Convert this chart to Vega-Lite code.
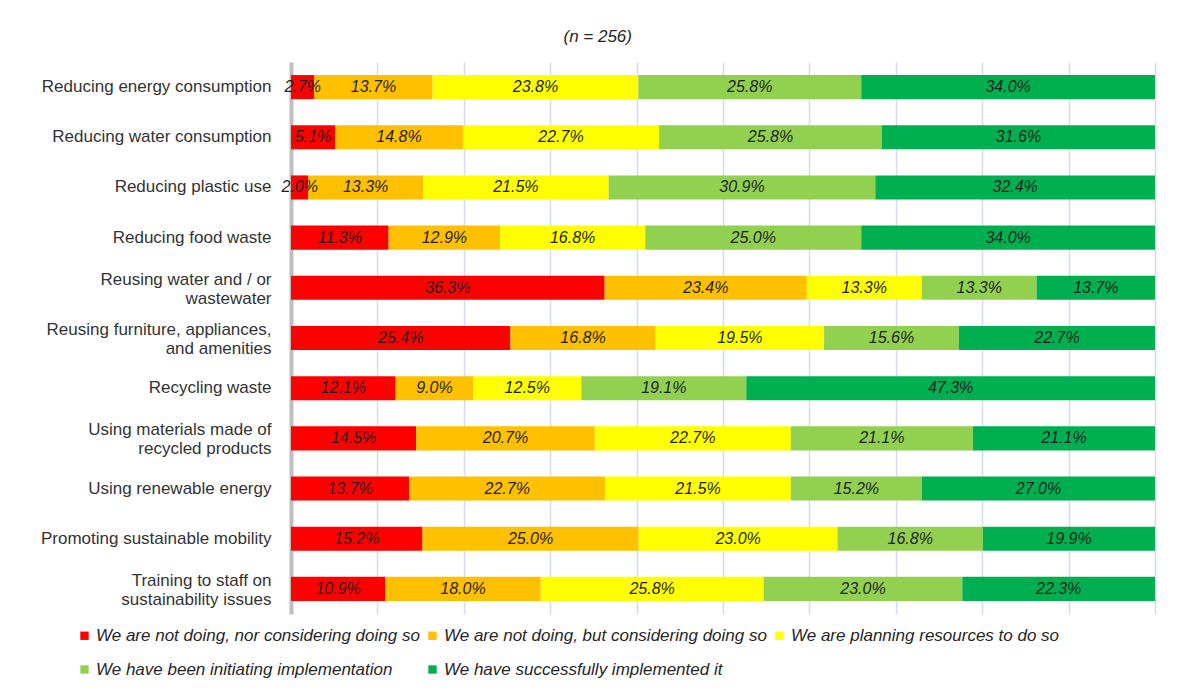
{
  "$schema": "https://vega.github.io/schema/vega-lite/v6.json",
  "autosize": "none",
  "width": 864,
  "height": 552,
  "padding": {"left": 291, "top": 62, "right": 37, "bottom": 77},
  "background": "white",
  "title": {
    "text": "(n = 256)",
    "frame": "bounds",
    "anchor": "middle",
    "font": "Liberation Sans",
    "fontStyle": "italic",
    "fontWeight": "normal",
    "fontSize": 17,
    "color": "#262626",
    "offset": 16
  },
  "config": {
    "view": {"stroke": null},
    "axis": {"labelFont": "Liberation Sans", "titleFont": "Liberation Sans"}
  },
  "data": {
    "values": [
      {"item": "Reducing energy consumption", "ord": 1, "cat": "We are not doing, nor considering doing so", "co": 1, "v": 2.7},
      {"item": "Reducing energy consumption", "ord": 1, "cat": "We are not doing, but considering doing so", "co": 2, "v": 13.7},
      {"item": "Reducing energy consumption", "ord": 1, "cat": "We are planning resources to do so", "co": 3, "v": 23.8},
      {"item": "Reducing energy consumption", "ord": 1, "cat": "We have been initiating implementation", "co": 4, "v": 25.8},
      {"item": "Reducing energy consumption", "ord": 1, "cat": "We have successfully implemented it", "co": 5, "v": 34.0},
      {"item": "Reducing water consumption", "ord": 2, "cat": "We are not doing, nor considering doing so", "co": 1, "v": 5.1},
      {"item": "Reducing water consumption", "ord": 2, "cat": "We are not doing, but considering doing so", "co": 2, "v": 14.8},
      {"item": "Reducing water consumption", "ord": 2, "cat": "We are planning resources to do so", "co": 3, "v": 22.7},
      {"item": "Reducing water consumption", "ord": 2, "cat": "We have been initiating implementation", "co": 4, "v": 25.8},
      {"item": "Reducing water consumption", "ord": 2, "cat": "We have successfully implemented it", "co": 5, "v": 31.6},
      {"item": "Reducing plastic use", "ord": 3, "cat": "We are not doing, nor considering doing so", "co": 1, "v": 2.0},
      {"item": "Reducing plastic use", "ord": 3, "cat": "We are not doing, but considering doing so", "co": 2, "v": 13.3},
      {"item": "Reducing plastic use", "ord": 3, "cat": "We are planning resources to do so", "co": 3, "v": 21.5},
      {"item": "Reducing plastic use", "ord": 3, "cat": "We have been initiating implementation", "co": 4, "v": 30.9},
      {"item": "Reducing plastic use", "ord": 3, "cat": "We have successfully implemented it", "co": 5, "v": 32.4},
      {"item": "Reducing food waste", "ord": 4, "cat": "We are not doing, nor considering doing so", "co": 1, "v": 11.3},
      {"item": "Reducing food waste", "ord": 4, "cat": "We are not doing, but considering doing so", "co": 2, "v": 12.9},
      {"item": "Reducing food waste", "ord": 4, "cat": "We are planning resources to do so", "co": 3, "v": 16.8},
      {"item": "Reducing food waste", "ord": 4, "cat": "We have been initiating implementation", "co": 4, "v": 25.0},
      {"item": "Reducing food waste", "ord": 4, "cat": "We have successfully implemented it", "co": 5, "v": 34.0},
      {"item": "Reusing water and / or|wastewater", "ord": 5, "cat": "We are not doing, nor considering doing so", "co": 1, "v": 36.3},
      {"item": "Reusing water and / or|wastewater", "ord": 5, "cat": "We are not doing, but considering doing so", "co": 2, "v": 23.4},
      {"item": "Reusing water and / or|wastewater", "ord": 5, "cat": "We are planning resources to do so", "co": 3, "v": 13.3},
      {"item": "Reusing water and / or|wastewater", "ord": 5, "cat": "We have been initiating implementation", "co": 4, "v": 13.3},
      {"item": "Reusing water and / or|wastewater", "ord": 5, "cat": "We have successfully implemented it", "co": 5, "v": 13.7},
      {"item": "Reusing furniture, appliances,|and amenities", "ord": 6, "cat": "We are not doing, nor considering doing so", "co": 1, "v": 25.4},
      {"item": "Reusing furniture, appliances,|and amenities", "ord": 6, "cat": "We are not doing, but considering doing so", "co": 2, "v": 16.8},
      {"item": "Reusing furniture, appliances,|and amenities", "ord": 6, "cat": "We are planning resources to do so", "co": 3, "v": 19.5},
      {"item": "Reusing furniture, appliances,|and amenities", "ord": 6, "cat": "We have been initiating implementation", "co": 4, "v": 15.6},
      {"item": "Reusing furniture, appliances,|and amenities", "ord": 6, "cat": "We have successfully implemented it", "co": 5, "v": 22.7},
      {"item": "Recycling waste", "ord": 7, "cat": "We are not doing, nor considering doing so", "co": 1, "v": 12.1},
      {"item": "Recycling waste", "ord": 7, "cat": "We are not doing, but considering doing so", "co": 2, "v": 9.0},
      {"item": "Recycling waste", "ord": 7, "cat": "We are planning resources to do so", "co": 3, "v": 12.5},
      {"item": "Recycling waste", "ord": 7, "cat": "We have been initiating implementation", "co": 4, "v": 19.1},
      {"item": "Recycling waste", "ord": 7, "cat": "We have successfully implemented it", "co": 5, "v": 47.3},
      {"item": "Using materials made of|recycled products", "ord": 8, "cat": "We are not doing, nor considering doing so", "co": 1, "v": 14.5},
      {"item": "Using materials made of|recycled products", "ord": 8, "cat": "We are not doing, but considering doing so", "co": 2, "v": 20.7},
      {"item": "Using materials made of|recycled products", "ord": 8, "cat": "We are planning resources to do so", "co": 3, "v": 22.7},
      {"item": "Using materials made of|recycled products", "ord": 8, "cat": "We have been initiating implementation", "co": 4, "v": 21.1},
      {"item": "Using materials made of|recycled products", "ord": 8, "cat": "We have successfully implemented it", "co": 5, "v": 21.1},
      {"item": "Using renewable energy", "ord": 9, "cat": "We are not doing, nor considering doing so", "co": 1, "v": 13.7},
      {"item": "Using renewable energy", "ord": 9, "cat": "We are not doing, but considering doing so", "co": 2, "v": 22.7},
      {"item": "Using renewable energy", "ord": 9, "cat": "We are planning resources to do so", "co": 3, "v": 21.5},
      {"item": "Using renewable energy", "ord": 9, "cat": "We have been initiating implementation", "co": 4, "v": 15.2},
      {"item": "Using renewable energy", "ord": 9, "cat": "We have successfully implemented it", "co": 5, "v": 27.0},
      {"item": "Promoting sustainable mobility", "ord": 10, "cat": "We are not doing, nor considering doing so", "co": 1, "v": 15.2},
      {"item": "Promoting sustainable mobility", "ord": 10, "cat": "We are not doing, but considering doing so", "co": 2, "v": 25.0},
      {"item": "Promoting sustainable mobility", "ord": 10, "cat": "We are planning resources to do so", "co": 3, "v": 23.0},
      {"item": "Promoting sustainable mobility", "ord": 10, "cat": "We have been initiating implementation", "co": 4, "v": 16.8},
      {"item": "Promoting sustainable mobility", "ord": 10, "cat": "We have successfully implemented it", "co": 5, "v": 19.9},
      {"item": "Training to staff on|sustainability issues", "ord": 11, "cat": "We are not doing, nor considering doing so", "co": 1, "v": 10.9},
      {"item": "Training to staff on|sustainability issues", "ord": 11, "cat": "We are not doing, but considering doing so", "co": 2, "v": 18.0},
      {"item": "Training to staff on|sustainability issues", "ord": 11, "cat": "We are planning resources to do so", "co": 3, "v": 25.8},
      {"item": "Training to staff on|sustainability issues", "ord": 11, "cat": "We have been initiating implementation", "co": 4, "v": 23.0},
      {"item": "Training to staff on|sustainability issues", "ord": 11, "cat": "We have successfully implemented it", "co": 5, "v": 22.3}
    ]
  },
  "transform": [
    {"stack": "v", "groupby": ["item"], "sort": [{"field": "co", "order": "ascending"}], "offset": "normalize", "as": ["x0", "x1"]},
    {"calculate": "(datum.x0 + datum.x1) / 2", "as": "xm"},
    {"calculate": "format(datum.v, '.1f') + '%'", "as": "lab"}
  ],
  "encoding": {
    "y": {
      "field": "item",
      "type": "nominal",
      "sort": {"field": "ord", "op": "min", "order": "ascending"},
      "title": null,
      "scale": {"paddingInner": 0.52, "paddingOuter": 0.26},
      "axis": {
        "labelExpr": "split(datum.label, '|')",
        "labelFontSize": 17,
        "labelColor": "#333333",
        "labelLineHeight": 19,
        "labelPadding": 20,
        "labelLimit": 300,
        "labelOffset": {"condition": {"test": "indexof(datum.value, '|') >= 0", "value": -8}, "value": 0},
        "ticks": false,
        "domainColor": "#BFBFBF",
        "domainWidth": 4,
        "domainCap": "butt"
      }
    }
  },
  "layer": [
    {
      "mark": {"type": "bar", "stroke": null},
      "encoding": {
        "x": {
          "field": "x0",
          "type": "quantitative",
          "scale": {"domain": [0, 1], "nice": false},
          "title": null,
          "axis": {
            "values": [0.1, 0.2, 0.3, 0.4, 0.5, 0.6, 0.7, 0.8, 0.9, 1.0],
            "labels": false,
            "ticks": false,
            "domain": false,
            "grid": true,
            "gridColor": "#D0DCEF",
            "gridWidth": 1.5
          }
        },
        "x2": {"field": "x1"},
        "color": {
          "field": "cat",
          "type": "nominal",
          "sort": {"field": "co", "order": "ascending"},
          "scale": {
            "domain": [
              "We are not doing, nor considering doing so",
              "We are not doing, but considering doing so",
              "We are planning resources to do so",
              "We have been initiating implementation",
              "We have successfully implemented it"
            ],
            "range": ["#FF0000", "#FFC000", "#FFFF00", "#92D050", "#00B050"]
          },
          "legend": {
            "title": null,
            "orient": "none",
            "legendX": -215,
            "legendY": 565,
            "direction": "horizontal",
            "columns": 3,
            "symbolType": "square",
            "symbolSize": 70,
            "symbolStrokeWidth": 0,
            "labelFont": "Liberation Sans",
            "labelFontStyle": "italic",
            "labelFontSize": 17,
            "labelColor": "#262626",
            "labelLimit": 400,
            "labelOffset": 3,
            "rowPadding": 16,
            "columnPadding": 4
          }
        }
      }
    },
    {
      "mark": {"type": "text", "font": "Liberation Sans", "fontStyle": "italic", "fontSize": 16, "color": "#1F1F1F"},
      "encoding": {
        "x": {"field": "xm", "type": "quantitative"},
        "text": {"field": "lab", "type": "nominal"}
      }
    }
  ]
}
